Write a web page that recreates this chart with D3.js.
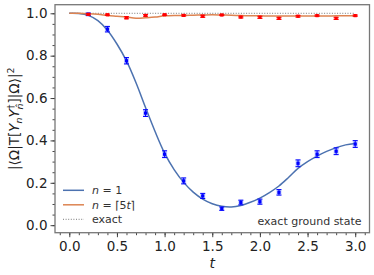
<!DOCTYPE html>
<html><head><meta charset="utf-8">
<script src="https://cdn.jsdelivr.net/npm/d3@7"></script>
<style>body{margin:0;background:#fff}svg{display:block}text{font-family:"DejaVu Sans",sans-serif}</style>
</head><body>
<svg id="c" width="374" height="275"></svg>
<script>
// ---- data ----
const tPts = [0.2,0.4,0.6,0.8,1.0,1.2,1.4,1.6,1.8,2.0,2.2,2.4,2.6,2.8,3.0];
const bluePts = [0.995,0.925,0.776,0.529,0.335,0.209,0.138,0.078,0.107,0.111,0.155,0.292,0.335,0.349,0.383];
const blueErr = [0.006,0.013,0.015,0.016,0.016,0.014,0.012,0.008,0.011,0.012,0.013,0.016,0.016,0.016,0.016];
const redPts = [0.995,0.993,0.979,0.990,0.993,0.990,0.986,0.992,0.982,0.981,0.976,0.986,0.989,0.976,0.989];
const redErr = [0.003,0.003,0.005,0.004,0.003,0.003,0.005,0.003,0.004,0.005,0.005,0.004,0.003,0.005,0.003];
const tCurve = [0,0.1,0.2,0.3,0.4,0.5,0.6,0.7,0.8,0.9,1.0,1.1,1.2,1.3,1.4,1.5,1.6,1.7,1.8,1.9,2.0,2.1,2.2,2.3,2.4,2.5,2.6,2.7,2.8,2.9,3.0];
const blueCurve = [1.0,0.999,0.99,0.965,0.92,0.855,0.775,0.672,0.555,0.442,0.34,0.262,0.202,0.156,0.123,0.101,0.089,0.086,0.093,0.108,0.128,0.154,0.185,0.225,0.268,0.300,0.326,0.348,0.366,0.379,0.386];
const redCurve = [1.0,1.0,0.998,0.995,0.99,0.986,0.982,0.977,0.979,0.982,0.988,0.99,0.99,0.991,0.992,0.993,0.992,0.991,0.989,0.988,0.988,0.987,0.987,0.987,0.987,0.987,0.987,0.987,0.988,0.988,0.988];
const exactT = [0,3];
const exactV = [1,1];
const xTicks = [0,0.5,1.0,1.5,2.0,2.5,3.0];
const yTicks = [0,0.2,0.4,0.6,0.8,1.0];

const svg = d3.select("#c");
const L=55,R=369.5,T=4.7,B=232.7;
const x = d3.scaleLinear().domain([-0.15,3.15]).range([L,R]);
const y = d3.scaleLinear().domain([-0.0355,1.0405]).range([B,T]);

// axes
const xMinor = d3.range(-0.1,3.11,0.1).map(v=>+v.toFixed(2));
const yMinor = d3.range(0,1.01,0.05).map(v=>+v.toFixed(2));
const gxm = svg.append("g").attr("transform",`translate(0,${B})`)
  .call(d3.axisBottom(x).tickValues(xMinor).tickSize(2.5).tickFormat(""));
const gx = svg.append("g").attr("transform",`translate(0,${B})`)
  .call(d3.axisBottom(x).tickValues(xTicks).tickSize(4.5).tickPadding(4).tickFormat(d3.format(".1f")));
const gym = svg.append("g").attr("transform",`translate(${L},0)`)
  .call(d3.axisLeft(y).tickValues(yMinor).tickSize(2.5).tickFormat(""));
const gy = svg.append("g").attr("transform",`translate(${L},0)`)
  .call(d3.axisLeft(y).tickValues(yTicks).tickSize(4.5).tickPadding(3).tickFormat(d3.format(".1f")));
[gx,gy,gxm,gym].forEach(g=>{g.select(".domain").remove();
  g.selectAll("line").attr("stroke","#333").attr("stroke-width",0.9);
  g.selectAll("text").attr("font-size",13.5).attr("fill","#222").attr("font-family","DejaVu Sans");});

// frame
svg.append("rect").attr("x",L).attr("y",T).attr("width",R-L).attr("height",B-T)
  .attr("fill","none").attr("stroke","#777").attr("stroke-width",1.3);

const line = d3.line().x(d=>x(d[0])).y(d=>y(d[1])).curve(d3.curveCatmullRom.alpha(0.5));
// exact
svg.append("path").attr("d",d3.line().x(d=>x(d[0])).y(d=>y(d[1]))(exactT.map((t,i)=>[t,exactV[i]])))
  .attr("fill","none").attr("stroke","#555").attr("stroke-width",0.8).attr("stroke-dasharray","1,1.6");
svg.append("path").attr("d",line(tCurve.map((t,i)=>[t,blueCurve[i]])))
  .attr("fill","none").attr("stroke","#4c72b0").attr("stroke-width",1.5);
svg.append("path").attr("d",line(tCurve.map((t,i)=>[t,redCurve[i]])))
  .attr("fill","none").attr("stroke","#dd8452").attr("stroke-width",1.5);

function points(vals, errs, col, halo){
  const g = svg.append("g");
  tPts.forEach((t,i)=>{
    const cx=x(t), y1=y(vals[i]+errs[i]), y2=y(vals[i]-errs[i]);
    g.append("rect").attr("x",cx-2.5).attr("y",y1-0.5).attr("width",5).attr("height",y2-y1+1).attr("fill",halo);
    g.append("line").attr("x1",cx).attr("x2",cx).attr("y1",y1).attr("y2",y2).attr("stroke",col).attr("stroke-width",1);
    [y1,y2].forEach(yy=>g.append("line").attr("x1",cx-2.5).attr("x2",cx+2.5).attr("y1",yy).attr("y2",yy).attr("stroke",col).attr("stroke-width",1));
    g.append("rect").attr("x",cx-1.6).attr("y",y(vals[i])-1.6).attr("width",3.2).attr("height",3.2).attr("fill",col);
  });
}
points(bluePts,blueErr,"#0000ff","rgba(90,120,255,0.35)");
points(redPts,redErr,"#ff0000","rgba(255,80,80,0.35)");

// legend
const leg = [{c:"#4c72b0",d:null,w:1.5},{c:"#dd8452",d:null,w:1.5},{c:"#555",d:"1,1.6",w:0.8}];
leg.forEach((l,i)=>{
  const yy = 190.3 + i*14.5;
  svg.append("line").attr("x1",63).attr("x2",84).attr("y1",yy).attr("y2",yy)
    .attr("stroke",l.c).attr("stroke-width",l.w).attr("stroke-dasharray",l.d);
  const tx = svg.append("text").attr("x",92).attr("y",yy+4).attr("font-size",11).attr("fill","#333");
  if(i===0){tx.append("tspan").attr("font-style","italic").text("n");tx.append("tspan").text(" = 1");}
  else if(i===1){tx.append("tspan").attr("font-style","italic").text("n");tx.append("tspan").text(" = ⌈5");
    tx.append("tspan").attr("font-style","italic").text("t");tx.append("tspan").text("⌉");}
  else tx.text("exact");
});
svg.append("text").attr("x",361.5).attr("y",225).attr("text-anchor","end").attr("font-size",11).attr("fill","#333").text("exact ground state");

// axis labels
svg.append("text").attr("x",x(1.5)).attr("y",268).attr("text-anchor","middle").attr("font-size",14)
  .attr("font-style","italic").attr("fill","#222").text("t");
const yl = svg.append("text").attr("transform",`translate(19,${(T+B)/2}) rotate(-90)`).attr("text-anchor","middle")
  .attr("font-size",13.5).attr("fill","#222");
yl.append("tspan").text("|⟨Ω|T[");
yl.append("tspan").attr("font-style","italic").text("Y");
yl.append("tspan").attr("font-style","italic").attr("font-size",9.5).attr("dy",3).text("n");
yl.append("tspan").attr("font-style","italic").attr("dy",-3).text("Y");
yl.append("tspan").attr("font-size",9.5).attr("dy",-5).text("†");
yl.append("tspan").attr("font-style","italic").attr("font-size",9.5).attr("dx",-5).attr("dy",9).text("n̂");
yl.append("tspan").attr("dy",-4).text("]|Ω⟩|");
yl.append("tspan").attr("font-size",9.5).attr("dy",-5).text("2");
</script>
</body></html>
